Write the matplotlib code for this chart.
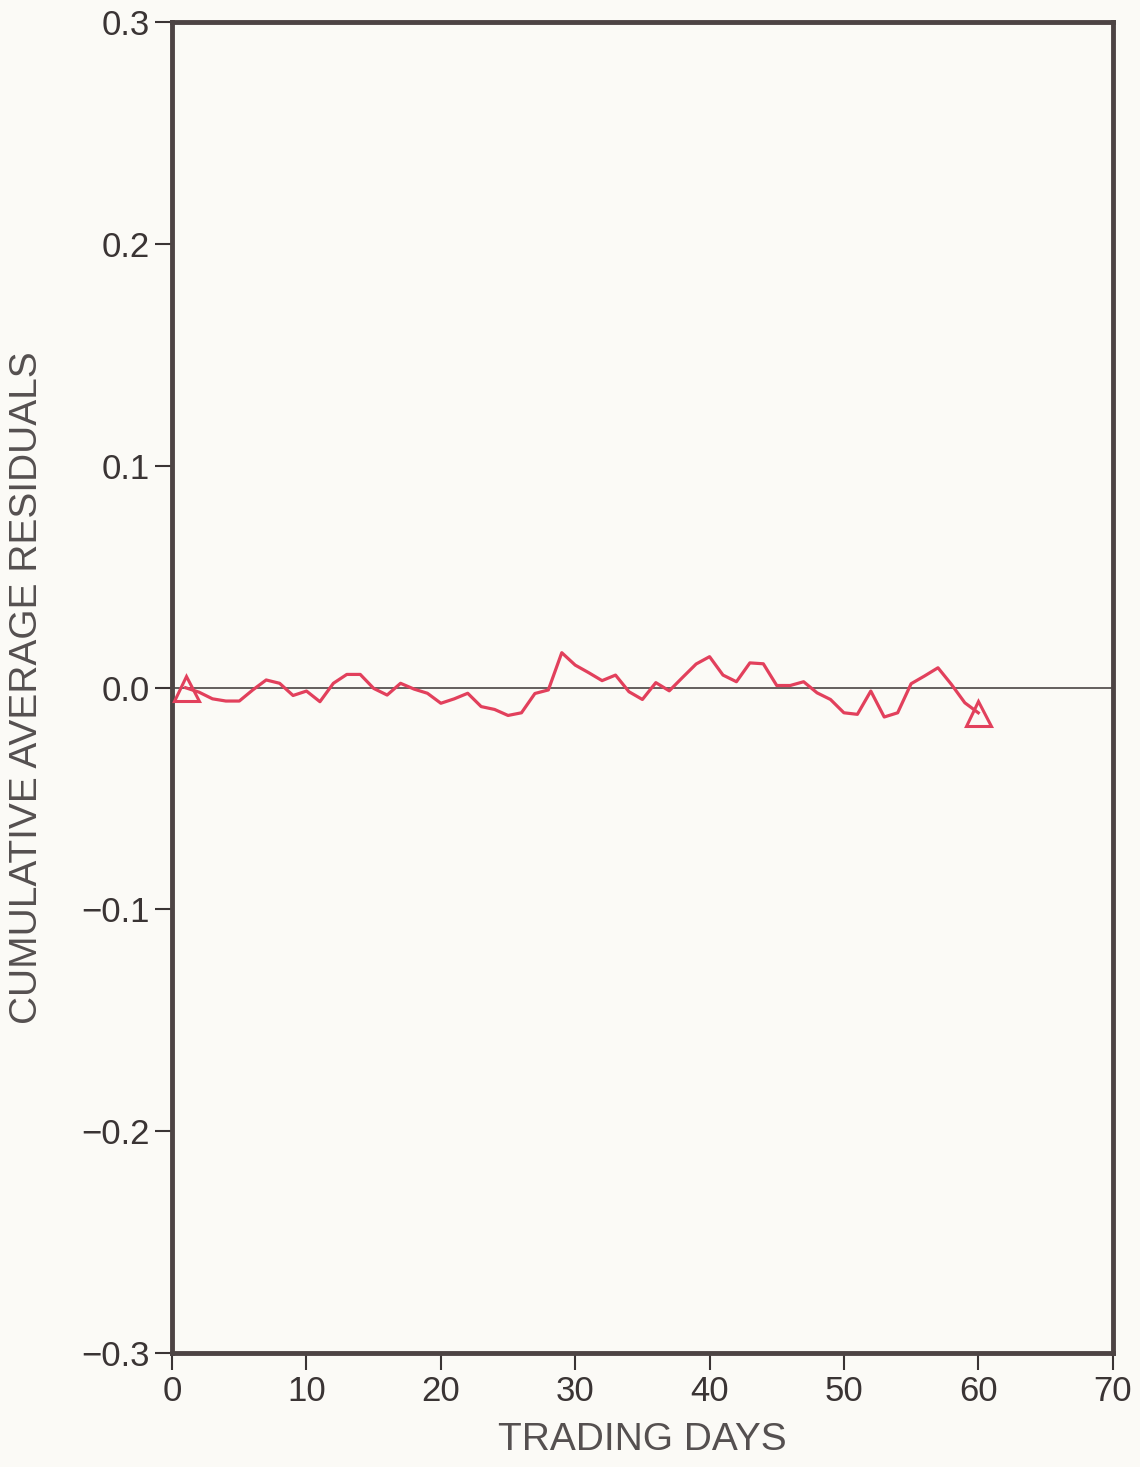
import matplotlib
matplotlib.use('Agg')
import matplotlib.pyplot as plt

# cumulative average residuals, trading days 1..60
days = list(range(1, 61))
car = [0.000, -0.002, -0.005, -0.006, -0.006, -0.001, 0.0035, 0.002, -0.0035, -0.0015,
       -0.0063, 0.002, 0.006, 0.006, -0.0003, -0.0033, 0.002, -0.0006, -0.0025, -0.007,
       -0.005, -0.0025, -0.0085, -0.0098, -0.0125, -0.0113, -0.0026, -0.001, 0.0158, 0.0102,
       0.0068, 0.0032, 0.0057, -0.0018, -0.0053, 0.0023, -0.0014, 0.0047, 0.0107, 0.014,
       0.0057, 0.0027, 0.0112, 0.0108, 0.001, 0.001, 0.0027, -0.0023, -0.0053, -0.0113,
       -0.012, -0.0015, -0.0132, -0.0113, 0.0018, 0.0053, 0.009, 0.0015, -0.0068, -0.0113]
marked_days = [1, 60]

xticks = [0, 10, 20, 30, 40, 50, 60, 70]
yticks = [-0.3, -0.2, -0.1, 0.0, 0.1, 0.2, 0.3]
ytick_labels = ['\u22120.3', '\u22120.2', '\u22120.1', '0.0', '0.1', '0.2', '0.3']

bg = '#fbfaf6'
ink = '#3a3434'
red = '#e2405c'
fonts = ['Liberation Sans Narrow', 'Liberation Sans', 'DejaVu Sans']

fig = plt.figure(figsize=(11.4, 14.67), dpi=100, facecolor=bg)
ax = fig.add_axes([0.151, 0.0777, 0.825, 0.907])
ax.set_facecolor(bg)

ax.axhline(0.0, color='#4a4444', linewidth=1.2, zorder=1)
ax.plot(days, car, color=red, linewidth=2.3, zorder=2)
ax.plot(marked_days, [car[d - 1] for d in marked_days], linestyle='none', marker='^',
        markersize=18, markerfacecolor='none', markeredgecolor=red, markeredgewidth=2.2, zorder=3)

ax.set_xlim(0, 70)
ax.set_ylim(-0.3, 0.3)
ax.set_xticks(xticks)
ax.set_yticks(yticks)
ax.set_yticklabels(ytick_labels)

for s in ax.spines.values():
    s.set_color('#4d4444')
    s.set_linewidth(3.5)

ax.tick_params(axis='both', direction='out', length=12, width=1.5, color=ink,
               labelcolor=ink, labelsize=25, pad=4)
for lab in ax.get_xticklabels() + ax.get_yticklabels():
    lab.set_family(fonts)

ax.set_xlabel('TRADING DAYS', fontsize=28, color='#555050', family=fonts, labelpad=10)
ax.set_ylabel('CUMULATIVE AVERAGE RESIDUALS', fontsize=28, color='#555050', family=fonts, labelpad=26)

fig.savefig('out.png', dpi=100, facecolor=bg)
